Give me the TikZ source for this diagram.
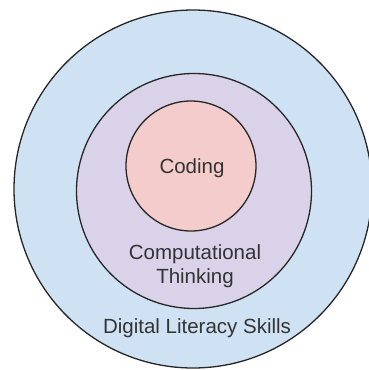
\documentclass[tikz,border=0pt]{standalone}
\usepackage{fontspec}
\setmainfont{Liberation Sans}
\usepackage{tikz}
\usetikzlibrary{positioning}
\usepackage{xcolor}
\definecolor{skillblue}{HTML}{CFE2F3}
\definecolor{thinkpurple}{HTML}{D9D2E9}
\definecolor{codepink}{HTML}{F4CCCC}
\definecolor{labelgray}{HTML}{333333}

\begin{document}
\begin{tikzpicture}[
  x=1pt, y=-1pt,
  ring/.style={draw=black!85, line width=1.3pt, circle, inner sep=0pt},
  lbl/.style={font=\fontsize{20.5}{24}\selectfont, text=labelgray, align=center}
]
  \useasboundingbox (0,0) rectangle (369,370);
  % Rings, outside in
  \node[ring, fill=skillblue, minimum size=358pt] (skills) at (193,189) {};
  \node[ring, fill=thinkpurple, minimum size=235pt] (thinking) at (194,191) {};
  \node[ring, fill=codepink, minimum size=130pt] (coding) at (191,166) {};

  % Labels
  \node[lbl] (codinglbl) at (192,168) {Coding};
  \node[lbl] (thinkinglbl) at (195,266) {Computational\\Thinking};
  \node[lbl] (skillslbl) at (197,328) {Digital Literacy Skills};
\end{tikzpicture}
\end{document}
